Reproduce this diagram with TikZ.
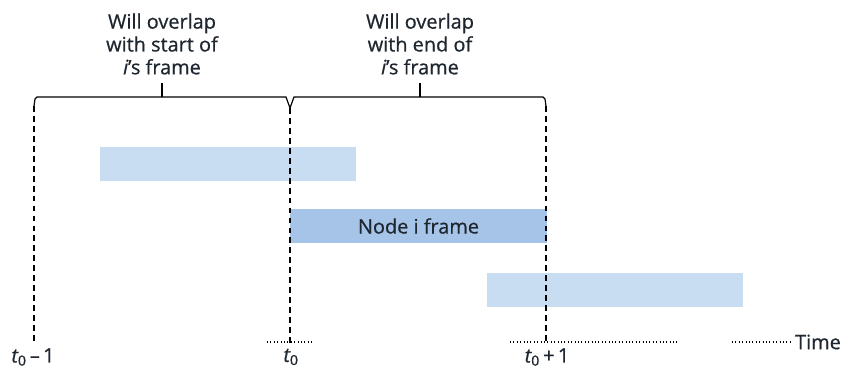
\documentclass[tikz,border=0pt]{standalone}
\usepackage{fontspec}
\setmainfont{Open Sans}
\usetikzlibrary{positioning}
\definecolor{FrameLight}{HTML}{C8DCF2}
\definecolor{FrameDark}{HTML}{A6C4E8}
\definecolor{InkText}{HTML}{1E2630}
\begin{document}
\begin{tikzpicture}[x=0.03cm,y=-0.03cm,every node/.style={font=\fontsize{17}{19.5}\selectfont\addfontfeature{FakeBold=0.6},text=InkText},
  framebox/.style={minimum width=7.68cm,minimum height=1.02cm,inner sep=0pt},
  slotline/.style={dash pattern=on 5pt off 3.5pt,line width=1.2pt},
  timeline/.style={dotted,line width=0.9pt}]
\fill[white] (0,0) rectangle (845,370); \useasboundingbox (0,0) rectangle (845,370);
% frames
\node[framebox,fill=FrameLight] (early) at (228,164){};
\node[framebox,fill=FrameDark] (own) at (418.5,226){Node i frame};
\node[framebox,fill=FrameLight] (late) at (615,290){};
% slot boundaries
\node (tm) at (33,357){{\itshape t}\textsubscript{0}\,--\,1};
\node (tz) at (291,357){{\itshape t}\textsubscript{0}};
\node (tp) at (547,357){{\itshape t}\textsubscript{0}\,+\,1};
\coordinate (bm) at (34,106); \coordinate (bz) at (290,108); \coordinate (bp) at (546,106);
\draw[slotline] (bm)--(bm|-tm.north); \draw[slotline] (bz)--(bz|-tz.north); \draw[slotline] (bp)--(bp|-tp.north);
% brace and captions
\draw[line width=1pt] (bm)--(35,99)--(37,97)--(286,97)--(bz)--(294,97)--(543,97)--(545,99)--(bp);
\node[align=center] (startcap) at (162,44){Will overlap\\with start of\\{\itshape i}’s frame};
\node[align=center] (endcap) at (420,44){Will overlap\\with end of\\{\itshape i}’s frame};
\draw[line width=1pt,shorten >=4pt] (162,97)--(startcap.south); \draw[line width=1pt,shorten >=4pt] (420,97)--(endcap.south);
% time axis
\node (time) at (818,342){Time};
\draw[timeline] (267,342)--(313,342) (510,342)--(677,342) (732,342)--(time.west);
\end{tikzpicture}
\end{document}
